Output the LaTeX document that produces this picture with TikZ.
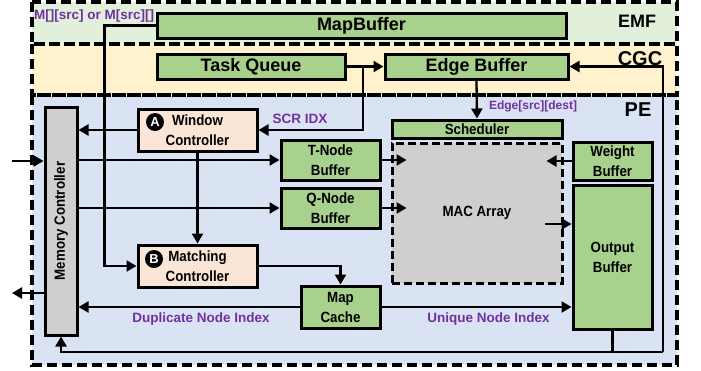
\documentclass[tikz,border=0pt]{standalone}
\usepackage{fontspec}
\setmainfont{Liberation Sans}
\newfontfamily\narrowsans[FakeStretch=0.9]{Liberation Sans}
\usetikzlibrary{arrows.meta,calc}

\definecolor{emfbg}{HTML}{E2EFDA}
\definecolor{cgcbg}{HTML}{FFF2CC}
\definecolor{pebg}{HTML}{DAE3F3}
\definecolor{bufgreen}{HTML}{A9D18E}
\definecolor{ctlpeach}{HTML}{FBE5D6}
\definecolor{macgray}{HTML}{D0CECE}
\definecolor{lblpurple}{HTML}{7030A0}

\newcommand{\boxfont}{\narrowsans\bfseries\fontsize{14.8}{20}\selectfont}
\newcommand{\bigfont}{\bfseries\fontsize{18}{20}\selectfont}

\tikzset{
  region/.style={line width=3.2pt, dash pattern=on 10pt off 5pt},
  blk/.style={draw, line width=3pt, inner sep=0pt, align=center, font=\boxfont},
  buf/.style={blk, fill=bufgreen},
  ctl/.style={blk, fill=ctlpeach},
  badge/.style={circle, fill=black, text=white, inner sep=0pt, minimum size=18pt,
    font=\bfseries\fontsize{13}{13}\selectfont},
  sig/.style={font=\bfseries\fontsize{13.5}{14}\selectfont, text=lblpurple, inner sep=0pt},
  arr/.style={line width=2.3pt, -{Triangle[length=10pt,width=11pt]}},
  wire/.style={line width=2.3pt}
}

\begin{document}
\begin{tikzpicture}[x=1pt,y=-1pt]
\useasboundingbox (0,0) rectangle (701,370);

% regions
\fill[emfbg] (32,2) rectangle (677,44);
\fill[cgcbg] (32,44) rectangle (677,95);
\fill[pebg] (32,95) rectangle (677,365);
\draw[region] (32,2) rectangle (677,44);
\draw[region] (32,44) rectangle (677,95);
\draw[region] (32,95) rectangle (677,365);
\node[font=\bigfont] (emflbl) at (637,21) {EMF};
\node[font=\bfseries\fontsize{20}{20}\selectfont] (cgclbl) at (640,59) {CGC};
\node[font=\bfseries\fontsize{20}{20}\selectfont] (pelbl) at (638,110) {PE};

% EMF and CGC blocks
\node[buf, font=\bigfont, minimum width=409pt, minimum height=25pt] (mapbuf) at (361.5,25.5) {MapBuffer};
\node[buf, font=\bigfont, minimum width=188pt, minimum height=25pt] (taskq) at (251,66.5) {Task Queue};
\node[buf, font=\bigfont, minimum width=183pt, minimum height=25pt] (edgebuf) at (476.5,66.5) {Edge Buffer};

% PE blocks
\node[blk, fill=macgray, minimum width=32pt, minimum height=228pt] (memctl) at (61,221) {\rotatebox{90}{Memory Controller}};
\node[ctl, minimum width=119pt, minimum height=42pt] (winctl) at (197.5,130) {Window\\Controller};
\node[ctl, minimum width=119pt, minimum height=42pt] (matctl) at (197.5,266) {Matching\\Controller};
\node[badge] (bdgA) at (155,122) {A};
\node[badge] (bdgB) at (154,259) {B};
\node[buf, minimum width=99pt, minimum height=40pt] (tnode) at (330.5,160) {T-Node\\Buffer};
\node[buf, minimum width=99pt, minimum height=40pt] (qnode) at (330.5,208) {Q-Node\\Buffer};
\node[buf, minimum width=79pt, minimum height=42pt] (mapcache) at (340.5,307) {Map\\Cache};
\node[buf, minimum width=170pt, minimum height=18pt] (sched) at (477,129) {Scheduler};
\node[blk, fill=macgray, dash pattern=on 8pt off 4pt, minimum width=170pt, minimum height=140pt] (mac) at (477,213) {MAC Array};
\node[buf, minimum width=79pt, minimum height=38pt] (weight) at (612.5,161) {Weight\\Buffer};
\node[buf, minimum width=79pt, minimum height=144pt] (outbuf) at (612.5,257) {Output\\Buffer};

% signal labels
\node[sig, anchor=west] (mlbl) at (34,16) {M[][src] or M[src][]};
\node[sig] (scrlbl) at (300,119) {SCR IDX};
\node[sig, font=\bfseries\fontsize{12}{13}\selectfont] (edgelbl) at (533,106) {Edge[src][dest]};
\node[sig] (duplbl) at (201,319) {Duplicate Node Index};
\node[sig] (uniqlbl) at (488.5,319) {Unique Node Index};

% connectors
\coordinate (tqsplit) at ($(taskq.east)!0.45!(edgebuf.west)$);
\coordinate (loopR) at (663,352);
\coordinate (macout) at (545,224);
\coordinate (extin) at (12,161);
\coordinate (extout) at (12,293);

\draw[arr] (mapbuf.west) -| ([xshift=-32pt]matctl.west) -- (matctl.west);
\draw[arr] (taskq.east) -- (edgebuf.west);
\draw[arr] (tqsplit) |- (winctl.east);
\draw[arr] (edgebuf.south) -- (sched.north);
\draw[arr] (loopR) |- (edgebuf.east);
\draw[arr] (loopR) -| (memctl.south);
\draw[wire] (outbuf.south) -- (outbuf.south |- loopR);
\draw[arr] (winctl.west) -- (winctl.west -| memctl.east);
\draw[arr] (winctl.south) -- (matctl.north);
\draw[arr] (tnode.west -| memctl.east) -- (tnode.west);
\draw[arr] (qnode.west -| memctl.east) -- (qnode.west);
\draw[arr] (tnode.east) -- ([xshift=16pt]tnode.east -| mac.west);
\draw[arr] (qnode.east) -- ([xshift=16pt]qnode.east -| mac.west);
\draw[arr] (weight.west) -- ([xshift=-17pt]weight.west -| mac.east);
\draw[arr] (macout) -- (macout -| outbuf.west);
\draw[arr] (matctl.east) -| (mapcache.north);
\draw[arr] (mapcache.west) -- (mapcache.west -| memctl.east);
\draw[arr] (mapcache.east) -- (mapcache.east -| outbuf.west);
\draw[arr] (extin) -- (extin -| memctl.west);
\draw[arr] (extout -| memctl.west) -- (extout);
\end{tikzpicture}
\end{document}
